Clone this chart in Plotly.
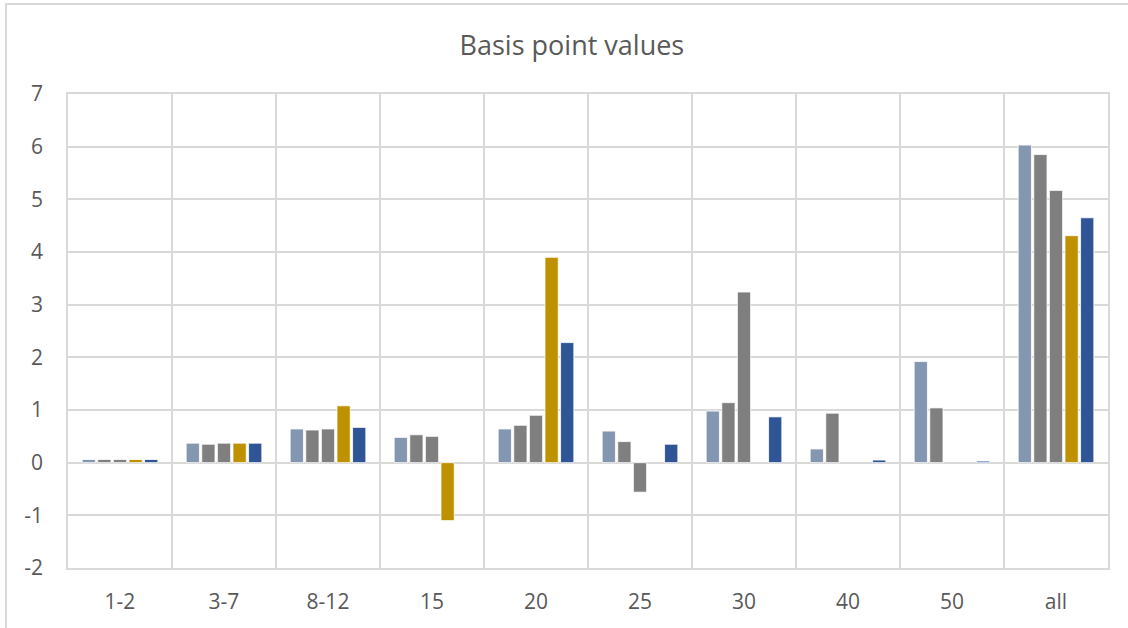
import plotly.graph_objects as go

categories = ["1-2", "3-7", "8-12", "15", "20", "25", "30", "40", "50", "all"]

# five series (None = no bar)
series_a = [0.06, 0.37, 0.64, 0.48, 0.64, 0.60, 0.98, 0.26, 1.92, 6.03]
series_b = [0.06, 0.35, 0.62, 0.53, 0.71, 0.40, 1.14, 0.94, 1.04, 5.85]
series_c = [0.06, 0.37, 0.64, 0.50, 0.90, -0.56, 3.24, None, None, 5.17]
series_d = [0.06, 0.37, 1.08, -1.10, 3.90, None, None, None, None, 4.31]
series_e = [0.06, 0.37, 0.67, None, 2.28, 0.35, 0.87, 0.05, 0.03, 4.65]

y_ticks = [-2, -1, 0, 1, 2, 3, 4, 5, 6, 7]
y_tick_text = ["-2", "-1", "0", "1", "2", "3", "4", "5", "6", "7"]

names = ["A", "B", "C", "D", "E"]
colors = ["#8497B0", "#7F7F7F", "#7F7F7F", "#BF9000", "#2F5597"]

fig = go.Figure()
for name, vals, col in zip(names, [series_a, series_b, series_c, series_d, series_e], colors):
    fig.add_trace(go.Bar(
        x=categories,
        y=vals,
        name=name,
        marker=dict(color=col, line=dict(color="white", width=0.8)),
    ))

grid = "#D9D9D9"
txt = "#595959"

fig.update_layout(
    width=1128,
    height=628,
    barmode="group",
    bargap=0.25,
    bargroupgap=0.15,
    showlegend=False,
    plot_bgcolor="white",
    paper_bgcolor="white",
    margin=dict(l=68, r=20, t=94, b=60),
    font=dict(family="Open Sans", color=txt),
    title=dict(text="Basis point values", x=0.507, xanchor="center",
               y=0.928, yanchor="middle",
               font=dict(size=27, color=txt)),
    xaxis=dict(
        tickson="boundaries",
        showgrid=True,
        gridcolor=grid,
        gridwidth=1.5,
        ticks="",
        tickfont=dict(size=21, color=txt),
        ticklabelstandoff=14,
        showline=True,
        linecolor=grid,
        linewidth=1.5,
        mirror=True,
    ),
    yaxis=dict(
        range=[-2, 7],
        tickvals=y_ticks,
        ticktext=y_tick_text,
        showgrid=True,
        gridcolor=grid,
        gridwidth=1.5,
        zeroline=True,
        zerolinecolor=grid,
        zerolinewidth=1.5,
        ticks="",
        tickfont=dict(size=21, color=txt),
        ticklabelstandoff=19,
        showline=True,
        linecolor=grid,
        linewidth=1.5,
        mirror=True,
    ),
    shapes=[dict(type="rect", xref="paper", yref="paper",
                 x0=-0.0596, x1=1.03, y0=-0.14, y1=1.19,
                 line=dict(color=grid, width=2), layer="below")],
)

fig.write_html("out.html", config={"displayModeBar": False},
               post_script="document.body.style.margin='0';document.body.style.overflow='hidden';")
